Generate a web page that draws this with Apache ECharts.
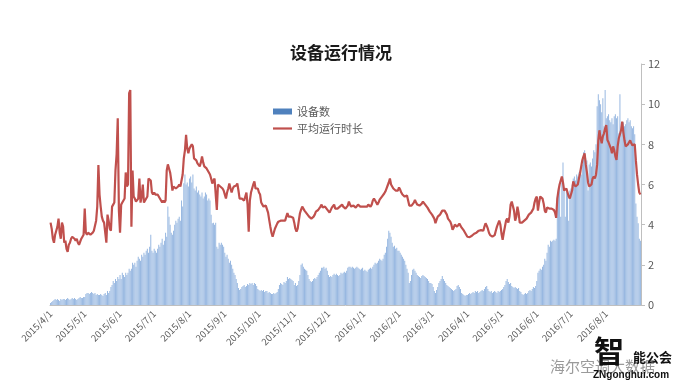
<!DOCTYPE html>
<html>
<head>
<meta charset="utf-8">
<script src="https://cdn.jsdelivr.net/npm/echarts@6/dist/echarts.min.js"></script>
<style>
html,body{margin:0;padding:0;background:#fff;}
#chart{width:682px;height:390px;}
</style>
</head>
<body>
<div id="chart"></div>
<script>
// ---- data (daily, 2015/4/1 .. 2016/8/31) ----
var startDate = [2015, 4, 1];
var tickValues = [0, 2, 4, 6, 8, 10, 12];
var seriesNames = ['设备数', '平均运行时长'];

// 设备数 (bars)
var dev_1504 = [0.1,0.15,0.2,0.25,0.3,0.25,0.3,0.25,0.2,0.3,0.25,0.3,0.3,0.25,0.3,0.35,0.3,0.25,0.3,0.35,0.3,0.35,0.3,0.25,0.3,0.35,0.4,0.35,0.35,0.4];
var dev_1505 = [0.4,0.55,0.6,0.6,0.55,0.6,0.65,0.6,0.55,0.6,0.5,0.55,0.5,0.5,0.55,0.5,0.45,0.55,0.6,0.5,0.7,0.6,0.7,0.9,1.0,1.2,1.1,1.3,1.2,1.4,1.3];
var dev_1506 = [1.5,1.3,1.6,1.5,1.4,1.6,1.5,1.6,1.8,1.7,1.8,2.1,2.0,2.1,1.9,2.2,2.4,2.3,2.2,2.5,2.4,2.6,2.5,2.7,2.8,2.6,2.9,3.5,2.7,2.6];
var dev_1507 = [2.8,2.7,2.6,2.8,3.0,2.9,3.1,3.3,3.0,3.2,3.6,3.4,4.9,4.4,4.0,3.6,3.5,3.7,4.0,4.2,4.1,4.3,4.4,4.2,5.2,4.9,6.06,6.5,6.0,6.1,5.9];
var dev_1508 = [6.3,6.4,6.1,6.5,5.8,5.7,5.9,5.6,5.7,5.5,5.4,5.6,5.3,5.4,5.6,5.5,5.2,5.3,5.2,4.5,4.07,4.1,4.0,4.1,2.9,2.8,3.1,3.0,3.1,3.0,2.9];
var dev_1509 = [2.6,2.4,2.5,2.3,2.1,2.2,2.0,1.8,1.6,1.5,1.3,1.1,0.85,0.75,0.8,0.9,0.95,1.0,0.9,0.95,1.05,1.0,1.1,1.05,1.1,1.0,1.1,1.05,0.95,0.8];
var dev_1510 = [0.75,0.7,0.75,0.7,0.75,0.65,0.7,0.7,0.6,0.65,0.6,0.55,0.55,0.6,0.55,0.6,0.65,0.8,1.0,1.1,1.05,1.0,1.15,1.1,1.2,1.4,1.3,1.35,1.3,1.25,1.2];
var dev_1511 = [1.0,1.1,0.95,1.0,1.2,1.5,2.0,2.07,1.9,1.8,1.75,1.7,1.5,1.3,1.2,1.15,1.2,1.3,1.35,1.3,1.4,1.5,1.6,1.7,1.85,1.85,1.9,1.8,1.85,1.7];
var dev_1512 = [1.5,1.4,1.45,1.4,1.5,1.55,1.5,1.55,1.5,1.45,1.5,1.6,1.55,1.6,1.65,1.6,1.7,1.85,1.9,1.9,1.85,1.9,1.85,1.8,1.85,1.9,1.85,1.8,1.75,1.8,1.85];
var dev_1601 = [1.7,1.75,1.7,1.65,1.75,1.8,1.85,1.8,1.9,2.0,2.1,2.05,2.1,2.2,2.3,2.25,2.2,2.3,2.5,2.6,2.9,3.3,3.7,3.6,3.4,3.1,2.9,2.95,2.8,2.85,2.7];
var dev_1602 = [2.7,2.6,2.5,2.4,2.3,2.2,2.0,1.8,1.6,1.1,1.2,1.5,1.75,1.8,1.7,1.6,1.5,1.45,1.4,1.35,1.45,1.5,1.45,1.4,1.35,1.3,1.2,1.1,1.1];
var dev_1603 = [1.05,0.9,0.7,0.6,0.75,0.9,1.1,1.2,1.3,1.45,1.3,1.2,1.1,1.0,0.95,0.9,0.85,0.8,0.75,0.7,0.75,0.8,0.95,1.0,0.9,0.8,0.6,0.55,0.5,0.45,0.5];
var dev_1604 = [0.5,0.55,0.6,0.55,0.6,0.65,0.6,0.7,0.65,0.7,0.6,0.65,0.7,0.75,0.7,0.8,0.9,0.95,0.8,0.7,0.65,0.7,0.6,0.65,0.7,0.65,0.6,0.7,0.65,0.7];
var dev_1605 = [0.75,0.8,0.9,1.0,1.2,1.3,1.15,1.05,1.1,0.95,0.9,0.85,0.9,0.85,0.8,0.85,0.7,0.65,0.55,0.5,0.55,0.6,0.55,0.6,0.7,0.75,0.7,0.8,0.9,0.85,0.95];
var dev_1606 = [1.2,1.6,1.7,1.8,1.75,1.9,2.0,2.3,2.2,2.6,3.0,2.9,3.2,3.15,3.2,3.25,3.2,3.3,5.4,5.6,6.0,4.4,6.1,7.1,5.8,4.4,5.7,5.6,4.2,5.7];
var dev_1607 = [5.8,6.0,6.3,6.4,6.2,6.5,6.4,6.6,6.7,6.5,7.0,7.6,7.7,7.3,7.2,5.7,7.0,7.1,6.9,7.3,7.7,7.6,8.0,9.9,10.5,10.2,10.0,9.6,10.3,8.9,10.7];
var dev_1608 = [9.3,9.4,9.5,9.2,9.1,9.3,9.0,9.4,9.5,9.3,9.4,8.55,10.5,8.6,9.0,9.1,8.9,9.0,9.2,9.3,9.1,9.2,8.9,8.8,8.9,8.5,5.06,4.4,4.07,3.3,3.2];

// 平均运行时长 (line)
var hrs_1504 = [4.1,3.8,3.3,3.1,3.5,3.7,3.9,4.3,3.6,3.3,4.1,3.9,3.1,3.2,2.8,2.65,3.0,3.1,3.3,3.4,3.4,3.3,3.2,3.3,3.1,3.0,3.0,3.3,3.4,3.5];
var hrs_1505 = [4.8,3.6,3.5,3.6,3.6,3.5,3.55,3.6,3.7,3.7,4.2,4.9,6.97,5.5,4.9,4.4,4.2,4.1,4.05,3.1,4.5,4.2,3.8,3.7,4.9,5.0,5.1,6.7,7.5,9.3,4.7];
var hrs_1506 = [3.6,5.0,5.1,5.2,5.3,6.6,5.9,6.0,10.55,10.7,3.9,6.7,5.4,5.3,5.15,5.2,5.3,6.3,5.1,5.4,6.0,5.1,5.2,5.3,5.4,6.3,6.3,6.2,5.6,5.5];
var hrs_1507 = [5.6,5.5,5.5,5.5,5.5,5.3,5.2,5.1,5.2,5.1,5.2,6.7,7.0,7.0,6.6,6.2,5.7,5.9,5.9,5.8,5.8,5.9,6.0,5.9,6.2,6.5,7.3,7.7,8.47,7.8,7.55];
var hrs_1508 = [7.8,7.9,8.0,7.9,7.3,7.25,7.2,7.05,7.0,6.9,7.1,7.4,7.1,6.9,6.95,6.8,6.7,6.6,6.5,6.3,6.05,6.2,6.3,6.25,4.73,6.0,6.0,5.9,5.85,5.8,5.7];
var hrs_1509 = [5.5,5.3,5.6,5.8,6.05,5.8,5.6,5.8,5.9,5.9,5.95,6.05,5.7,5.3,5.3,5.3,5.25,5.2,5.4,5.6,5.0,3.65,5.2,5.6,5.8,6.0,6.15,5.8,5.75,5.8];
var hrs_1510 = [5.6,5.5,5.1,5.0,4.9,4.9,4.95,4.95,4.6,4.24,3.9,3.6,3.4,3.6,3.8,3.85,4.05,4.15,4.2,4.2,4.15,4.2,4.15,4.2,4.4,4.57,4.4,4.35,4.4,4.4,4.35];
var hrs_1511 = [4.1,3.8,3.65,3.8,4.2,4.57,4.75,4.9,4.8,4.7,4.65,4.55,4.5,4.4,4.35,4.3,4.23,4.4,4.5,4.65,4.7,4.73,4.8,4.9,5.0,4.85,4.85,4.9,4.85,4.75];
var hrs_1512 = [4.7,4.6,4.65,4.85,4.9,5.0,4.8,4.75,4.8,4.85,4.9,4.9,5.0,4.9,4.85,4.8,4.75,4.95,5.15,5.0,4.9,4.9,4.95,4.95,4.85,4.9,5.0,4.95,4.9,4.85,4.9];
var hrs_1601 = [4.95,4.9,4.85,4.9,5.0,4.95,4.9,5.0,5.2,5.3,5.2,5.1,5.0,5.1,5.25,5.3,5.4,5.48,5.55,5.65,5.8,5.95,6.1,6.3,6.0,5.9,5.8,5.75,5.7,5.65,5.7];
var hrs_1602 = [5.85,5.75,5.6,5.5,5.45,5.4,5.4,5.45,5.2,4.95,4.9,4.95,5.0,5.1,5.23,5.1,5.0,5.0,4.95,4.9,5.05,5.15,5.1,5.0,5.0,4.85,4.75,4.65,4.6];
var hrs_1603 = [4.5,4.45,4.3,4.07,4.25,4.4,4.45,4.5,4.6,4.7,4.73,4.7,4.65,4.5,4.3,4.25,4.15,4.0,3.75,3.85,4.0,3.95,3.9,3.95,4.05,4.0,3.85,3.8,3.7,3.6,3.5];
var hrs_1604 = [3.4,3.33,3.38,3.4,3.45,3.5,3.55,3.57,3.6,3.65,3.7,3.75,3.73,3.65,3.7,3.9,4.07,3.95,3.8,3.6,3.48,3.42,3.4,3.42,3.48,3.7,3.9,4.05,4.2,4.0];
var hrs_1605 = [3.55,3.25,3.6,3.9,4.2,4.3,4.1,4.4,5.0,5.15,5.1,4.7,4.2,4.4,4.9,4.6,4.1,4.07,4.1,4.15,4.2,4.25,4.3,4.4,4.5,4.57,4.6,4.65,4.8,5.1,5.3];
var hrs_1606 = [5.4,4.7,5.1,5.4,5.48,5.3,5.06,4.7,4.6,4.85,4.9,4.8,4.75,4.8,4.75,4.73,4.6,4.34,5.3,5.7,6.0,6.2,6.4,6.1,5.7,5.75,5.8,5.6,5.4,5.3];
var hrs_1607 = [5.23,5.7,6.15,6.0,5.9,5.95,6.0,6.3,6.56,6.9,7.22,7.4,7.55,7.0,6.6,6.1,5.9,5.95,6.0,6.3,6.4,6.3,6.5,7.0,8.2,8.7,8.3,8.05,8.4,8.55,8.8];
var hrs_1608 = [8.96,8.22,8.1,8.05,7.8,7.55,7.9,7.7,7.4,7.22,7.9,8.3,8.5,8.7,9.13,8.6,8.2,7.9,7.95,8.0,8.1,8.2,8.05,7.95,7.9,8.0,7.2,6.5,6.0,5.6,5.5];

var devices = [].concat(dev_1504, dev_1505, dev_1506, dev_1507, dev_1508, dev_1509, dev_1510, dev_1511, dev_1512,
  dev_1601, dev_1602, dev_1603, dev_1604, dev_1605, dev_1606, dev_1607, dev_1608);
var hours = [].concat(hrs_1504, hrs_1505, hrs_1506, hrs_1507, hrs_1508, hrs_1509, hrs_1510, hrs_1511, hrs_1512,
  hrs_1601, hrs_1602, hrs_1603, hrs_1604, hrs_1605, hrs_1606, hrs_1607, hrs_1608);

// categories: one per day
var categories = [];
(function () {
  var t = Date.UTC(startDate[0], startDate[1] - 1, startDate[2]);
  for (var i = 0; i < devices.length; i++) {
    var d = new Date(t + i * 86400000);
    categories.push(d.getUTCFullYear() + '/' + (d.getUTCMonth() + 1) + '/' + d.getUTCDate());
  }
})();

function isMonthStart(idx, val) { return /\/1$/.test(val); }

var chart = echarts.init(document.getElementById('chart'), null, { renderer: 'canvas' });
var FONT = '"Noto Sans CJK SC", "Noto Sans", sans-serif';
chart.setOption({
  animation: false,
  backgroundColor: '#ffffff',
  title: {
    text: '设备运行情况',
    left: 'center',
    top: 39,
    textStyle: { fontSize: 17, fontWeight: 'bold', color: '#1a1a1a', fontFamily: FONT }
  },
  legend: {
    orient: 'vertical',
    left: 273,
    top: 106,
    padding: 0,
    itemWidth: 19,
    itemHeight: 6,
    itemGap: 6,
    textStyle: { fontSize: 11, color: '#595959', fontFamily: FONT },
    data: [
      { name: seriesNames[0], icon: 'rect', itemStyle: { color: '#4F81BD' } },
      { name: seriesNames[1], icon: 'path://M0,0L19,0L19,2.2L0,2.2Z', itemStyle: { color: '#C0504D' } }
    ]
  },
  grid: { left: 50, right: 41, top: 64, bottom: 85, containLabel: false },
  xAxis: {
    type: 'category',
    data: categories,
    boundaryGap: true,
    axisLine: { lineStyle: { color: '#BFBFBF', width: 1 } },
    axisTick: { interval: isMonthStart, length: 4, lineStyle: { color: '#BFBFBF' } },
    axisLabel: {
      interval: isMonthStart,
      rotate: 45,
      fontSize: 9.5,
      color: '#595959',
      margin: 7,
      fontFamily: FONT
    },
    splitLine: { show: false }
  },
  yAxis: {
    type: 'value',
    position: 'right',
    min: 0,
    max: 12,
    interval: 2,
    axisLine: { show: true, lineStyle: { color: '#BFBFBF' } },
    axisTick: { show: true, length: 4, lineStyle: { color: '#BFBFBF' } },
    axisLabel: { fontSize: 11, color: '#595959', margin: 7, fontFamily: FONT },
    splitLine: { show: false }
  },
  series: [
    {
      name: seriesNames[0],
      type: 'bar',
      data: devices,
      barCategoryGap: '30%',
      itemStyle: { color: '#98B8E1' }
    },
    {
      name: seriesNames[1],
      type: 'line',
      data: hours,
      smooth: false,
      symbol: 'none',
      showSymbol: false,
      lineStyle: { color: '#C0504D', width: 2.2 },
      itemStyle: { color: '#C0504D' }
    }
  ],
  graphic: [
    { type: 'text', left: 550, top: 359, style: { text: '海尔空调大数据', font: '15px ' + FONT, fill: '#9a9a9a' } },
    { type: 'text', left: 594, top: 336, style: { text: '智', font: 'bold 30px ' + FONT, fill: '#111' } },
    { type: 'text', left: 633, top: 351, style: { text: '能公会', font: 'bold 13px ' + FONT, fill: '#111' } },
    { type: 'text', left: 593, top: 370, style: { text: 'ZNgonghui.com', font: 'bold 10px "Liberation Sans", sans-serif', fill: '#111' } }
  ]
});
</script>
</body>
</html>
